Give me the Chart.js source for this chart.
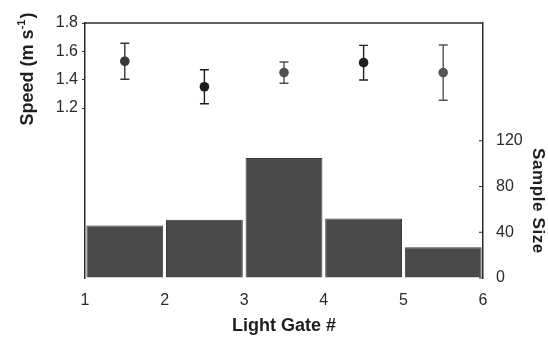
<!DOCTYPE html>
<html>
<head>
<meta charset="utf-8">
<script src="https://cdn.jsdelivr.net/npm/chart.js@4/dist/chart.umd.min.js"></script>
<style>
  html, body { margin: 0; padding: 0; background: #fff; }
  #wrap { width: 548px; height: 338px; }
</style>
</head>
<body>
<div id="wrap"><canvas id="c" width="548" height="338"></canvas></div>
<script>
// Light gate bins (edges) and their centres
const gateEdges = [1, 2, 3, 4, 5, 6];
const gateCenters = [1.5, 2.5, 3.5, 4.5, 5.5];

// Number of runs recorded at each gate
const sampleSize = [46, 51, 105, 52, 27];

// Mean running speed and its standard deviation (m/s)
const speedMean = [1.53, 1.35, 1.45, 1.52, 1.45];
const speedSD = [0.127, 0.12, 0.075, 0.122, 0.195];

// Labelled ticks on each vertical axis
const speedTicks = [1.2, 1.4, 1.6, 1.8];
const sizeTicks = [0, 40, 80, 120];

const FONT = '"Liberation Sans", Arial, sans-serif';
const INK = '#2b2b2b';
const pointColors = ['#383838', '#1c1c1c', '#505050', '#202020', '#555555'];

// Error bars, frame and axis titles
const decorations = {
  id: 'decorations',
  beforeDatasetDraw(chart, args) {
    if (args.index !== 0) return;
    const { ctx, scales } = chart;
    ctx.save();
    ctx.lineWidth = 1.4;
    gateCenters.forEach((g, i) => {
      const x = scales.x.getPixelForValue(g);
      const yTop = scales.yL.getPixelForValue(speedMean[i] + speedSD[i]);
      const yBot = scales.yL.getPixelForValue(speedMean[i] - speedSD[i]);
      ctx.strokeStyle = pointColors[i];
      ctx.beginPath();
      ctx.moveTo(x, yTop); ctx.lineTo(x, yBot);
      ctx.moveTo(x - 4.5, yTop); ctx.lineTo(x + 4.5, yTop);
      ctx.moveTo(x - 4.5, yBot); ctx.lineTo(x + 4.5, yBot);
      ctx.stroke();
    });
    ctx.restore();
  },
  afterDraw(chart) {
    const { ctx, chartArea: a, scales } = chart;
    ctx.save();
    ctx.strokeStyle = INK;
    ctx.lineWidth = 1.5;
    // top edge of the frame
    ctx.beginPath();
    ctx.moveTo(a.left, a.top); ctx.lineTo(a.right, a.top);
    ctx.stroke();
    // inward ticks on the sample-size axis
    ctx.lineWidth = 1;
    sizeTicks.forEach(v => {
      const y = scales.yR.getPixelForValue(v);
      ctx.beginPath();
      ctx.moveTo(a.right - 4, y); ctx.lineTo(a.right, y);
      ctx.stroke();
    });

    ctx.fillStyle = '#1e1e1e';
    // left title: Speed (m s^-1)
    ctx.save();
    ctx.translate(33, 69);
    ctx.rotate(-Math.PI / 2);
    ctx.textBaseline = 'alphabetic';
    const big = 'bold 18px ' + FONT, small = 'bold 11px ' + FONT;
    const p1 = 'Speed (m s', p3 = ')';
    ctx.font = small; const w2 = ctx.measureText('-1').width;
    ctx.font = big;
    const w1 = ctx.measureText(p1).width, w3 = ctx.measureText(p3).width;
    const x0 = -(w1 + w2 + w3 + 1) / 2;
    ctx.fillText(p1, x0, 0);
    ctx.font = small; ctx.fillText('-1', x0 + w1, -8);
    ctx.font = big; ctx.fillText(p3, x0 + w1 + w2 + 1, 0);
    ctx.restore();

    // right title
    ctx.save();
    ctx.translate(538, 201);
    ctx.rotate(Math.PI / 2);
    ctx.font = 'bold 17px ' + FONT;
    ctx.letterSpacing = '0.6px';
    ctx.textAlign = 'center';
    ctx.textBaseline = 'middle';
    ctx.fillText('Sample Size', 0, 0);
    ctx.restore();

    // bottom title
    ctx.font = 'bold 18px ' + FONT;
    ctx.textAlign = 'center';
    ctx.textBaseline = 'middle';
    ctx.fillText('Light Gate #', 284, 326);
    ctx.restore();
  }
};

new Chart(document.getElementById('c'), {
  type: 'bar',
  data: {
    datasets: [
      {
        type: 'scatter',
        label: 'Speed',
        yAxisID: 'yL',
        data: gateCenters.map((g, i) => ({ x: g, y: speedMean[i] })),
        pointRadius: 4.8,
        pointBackgroundColor: pointColors,
        pointBorderColor: pointColors,
        pointBorderWidth: 0,
        order: 0
      },
      {
        type: 'bar',
        label: 'Sample size',
        yAxisID: 'yR',
        data: gateCenters.map((g, i) => ({ x: g, y: sampleSize[i] })),
        backgroundColor: '#4a4a4a',
        borderColor: '#3a3a3a',
        borderWidth: 1,
        barPercentage: 0.965,
        categoryPercentage: 1,
        order: 1
      }
    ]
  },
  options: {
    responsive: false,
    animation: false,
    devicePixelRatio: 1,
    layout: { padding: { top: 23, left: 0, right: 0, bottom: 0 } },
    plugins: { legend: { display: false }, tooltip: { enabled: false } },
    scales: {
      x: {
        type: 'linear',
        offset: false,
        min: gateEdges[0],
        max: gateEdges[gateEdges.length - 1],
        afterBuildTicks: s => { s.ticks = gateEdges.map(v => ({ value: v })); },
        afterFit: s => { s.height = 60; },
        grid: { display: false, drawTicks: false, offset: false },
        border: { display: false },
        ticks: { padding: 13, color: INK, font: { family: FONT, size: 16 } }
      },
      yL: {
        type: 'linear',
        position: 'left',
        min: 0,
        max: 1.8,
        afterBuildTicks: s => { s.ticks = speedTicks.map(v => ({ value: v })); },
        afterFit: s => { s.width = 85; },
        grid: { drawOnChartArea: false, drawTicks: true, tickLength: 3, color: INK },
        border: { display: true, color: INK, width: 1.5 },
        ticks: {
          padding: 4,
          color: INK,
          font: { family: FONT, size: 16 },
          callback: v => v.toFixed(1)
        }
      },
      yR: {
        type: 'linear',
        position: 'right',
        min: 0,
        max: 223,
        afterBuildTicks: s => { s.ticks = sizeTicks.map(v => ({ value: v })); },
        afterFit: s => { s.width = 65; },
        grid: { drawOnChartArea: false, drawTicks: false },
        border: { display: true, color: INK, width: 1.5 },
        ticks: {
          padding: 13,
          color: INK,
          font: { family: FONT, size: 16 }
        }
      }
    }
  },
  plugins: [decorations]
});
</script>
</body>
</html>
